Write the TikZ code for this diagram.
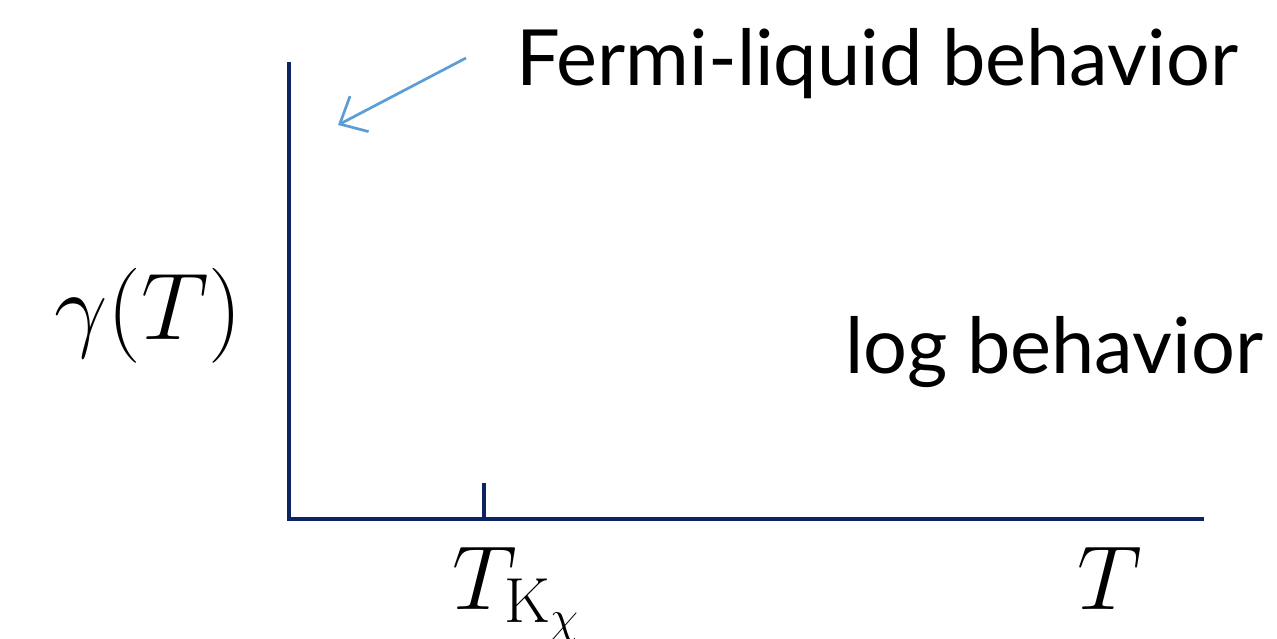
\RequirePackage{fix-cm}
\documentclass[tikz,border=0pt]{standalone}
\usepackage{fontspec}
\newfontfamily\labelfont{Lato}
\usetikzlibrary{arrows.meta}
\definecolor{axisblue}{RGB}{12,36,98}
\definecolor{arrowblue}{RGB}{92,157,215}
\tikzset{
  axis/.style={draw=axisblue, line width=4pt},
  pointer/.style={draw=arrowblue, line width=2.7pt, -{Straight Barb[length=22pt,width=40pt,line width=2.7pt]}},
  sanslabel/.style={inner sep=0pt, anchor=base west, font=\labelfont\fontsize{77.5}{90}\selectfont},
  mathlabel/.style={inner sep=0pt, anchor=base west, font=\fontsize{91}{100}\selectfont},
}
\begin{document}
\begin{tikzpicture}[x=1pt,y=-1pt]
\useasboundingbox (0,0) rectangle (1277,638);
\coordinate (ytop) at (289,62);
\coordinate (origin) at (289,519);
\coordinate (xend) at (1204,519);
\coordinate (tickbot) at (484,519);
\coordinate (ticktop) at (484,483);
\draw[axis] (ytop) -- (origin) -- (xend);
\draw[axis] (tickbot) -- (ticktop);
\coordinate (arrs) at (466,58);
\coordinate (arre) at (338,125);
\draw[pointer] (arrs) -- (arre);
\node[sanslabel] (fl) at (516,85) {Fermi-liquid behavior};
\node[sanslabel] (lb) at (845,373) {log behavior};
\node[mathlabel, font=\fontsize{95}{100}\selectfont] (gam) at (54,339) {$\gamma(T)$};
\node[mathlabel] (tk) at (452,609) {$T_{\mathrm{K}_\chi}$};
\node[mathlabel] (tt) at (1077,609) {$T$};
\end{tikzpicture}
\end{document}
